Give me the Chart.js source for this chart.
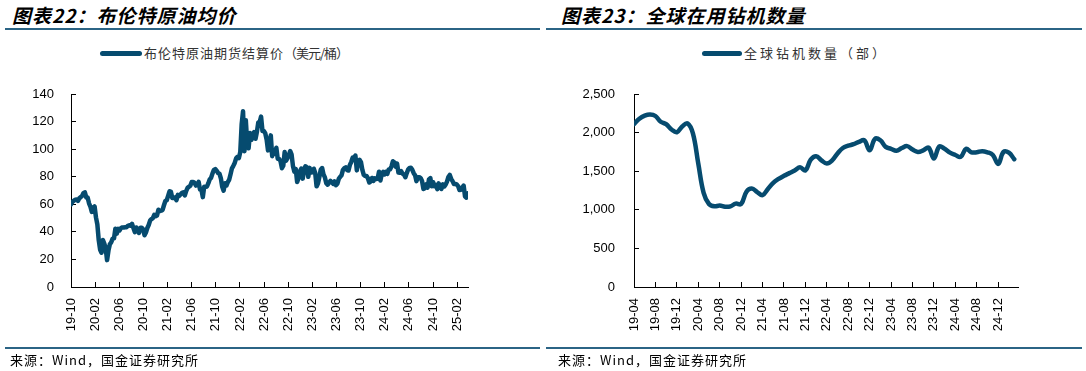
<!DOCTYPE html>
<html>
<head>
<meta charset="utf-8">
<script src="https://cdn.jsdelivr.net/npm/chart.js@4.4.1/dist/chart.umd.min.js"></script>
<style>
  body { margin: 0; background: #fff; width: 1086px; height: 371px; position: relative; overflow: hidden;
         font-family: "Noto Sans CJK SC", sans-serif; }
  .title { position: absolute; top: 3px; font-size: 19px; font-weight: bold; font-style: italic;
           letter-spacing: 1px; color: #000; line-height: 24px; }
  .rule { position: absolute; height: 2px; background: #2b6485; }
  .legend { position: absolute; top: 44px; font-size: 13px; line-height: 18px; color: #333;
            letter-spacing: 1px; display: flex; align-items: center; white-space: nowrap; }
  .legend i { display: inline-block; height: 5px; border-radius: 3px; background: #064b6f; margin-right: 2px; }
  .src { position: absolute; top: 351px; font-size: 13px; line-height: 18px; color: #000; letter-spacing: 1px; }
  canvas { position: absolute; top: 0; }
</style>
</head>
<body>
<div class="title" style="left:12px">图表22：布伦特原油均价</div>
<div class="title" style="left:561px">图表23：全球在用钻机数量</div>
<div class="rule" style="left:5px;width:535px;top:28px"></div>
<div class="rule" style="left:546px;width:536px;top:28px"></div>

<div class="legend" style="left:100px"><i style="width:42px"></i>布伦特原油期货结算价<span style="letter-spacing:-1px">（美元/桶）</span></div>
<div class="legend" style="left:702px;letter-spacing:3px"><i style="width:40px"></i>全球钻机数量（部）</div>

<canvas id="oil" width="543" height="371" style="left:0"></canvas>
<canvas id="rig" width="543" height="371" style="left:543px"></canvas>

<div class="rule" style="left:5px;width:535px;top:347px;height:1.5px"></div>
<div class="rule" style="left:546px;width:536px;top:347px;height:1.5px"></div>
<div class="src" style="left:10px">来源：Wind，国金证券研究所</div>
<div class="src" style="left:558px">来源：Wind，国金证券研究所</div>

<script>
// Brent settlement, weekly (Fridays), from 2019-10-25
const brent2019 = [60.0, 61.7, 62.5, 63.3, 63.4, 62.4, 64.4, 65.2, 66.1, 68.2];
const brent2020 = [68.6, 65.0, 64.9, 60.7, 58.2, 54.5, 57.3, 58.5, 50.5,
  45.3, 33.9, 27.0, 24.9, 34.1, 31.5, 28.1, 19.5, 26.4, 31.0, 32.5, 35.1, 35.3,
  42.3, 38.7, 42.2, 41.0, 42.8, 43.2, 43.1, 43.3, 43.3, 44.4, 44.8, 44.4, 45.8,
  42.7, 39.8, 43.2, 41.9, 39.3, 42.9, 42.9, 41.8, 37.5, 39.5, 42.8, 45.0, 48.2,
  49.3, 50.0, 52.3, 51.3];
const brent2021 = [51.8, 56.0, 55.1, 55.4, 55.9, 59.3, 62.4, 62.9, 66.1,
  69.4, 69.2, 64.5, 64.6, 64.9, 63.0, 66.8, 66.1, 67.3, 68.3, 68.7, 66.4, 69.6,
  71.9, 72.7, 73.5, 76.2, 76.2, 75.6, 73.6, 74.1, 76.3, 70.7, 70.6, 65.2, 72.7,
  72.6, 72.9, 75.3, 78.1, 79.3, 82.4, 84.9, 85.5, 84.4, 82.7, 82.2, 78.9, 72.7,
  69.9, 75.2, 73.5, 76.1, 77.8];
const brent2022 = [81.8, 86.1, 87.9, 90.0, 93.3, 94.4, 93.5, 97.9,
  118.0, 127.5, 98.5, 121.0, 104.4, 100.6, 111.7, 106.7, 109.3,
  112.4, 107.5, 112.6, 119.4, 119.7, 123.6, 113.1, 113.1,
  111.6, 107.0, 99.1, 103.2, 110.0, 94.9, 98.2, 96.7, 101.0,
  93.0, 92.8, 91.4, 86.2, 88.0, 97.9, 91.6, 93.5, 95.8, 98.6, 96.0, 87.6, 83.6,
  85.6, 76.1, 79.0, 84.0, 85.9];
const brent2023 = [78.6, 85.3, 87.6, 86.7, 79.9, 86.4, 83.0, 83.2,
  85.8, 82.8, 73.0, 75.0, 79.8, 85.1, 86.3, 81.7, 79.5, 75.3, 74.2, 75.6, 77.0,
  76.1, 74.8, 76.6, 73.9, 74.9, 78.5, 79.9, 81.1, 85.0, 86.2, 86.8, 84.8, 84.5,
  88.6, 90.7, 93.9, 93.3, 95.3, 84.6, 90.9, 92.2, 90.5, 84.9, 81.4, 80.6, 80.6,
  78.9, 75.8, 76.6, 79.1, 77.0];
const brent2024 = [78.8, 78.3, 78.6, 83.6, 77.3, 82.2, 83.5, 81.6,
  83.6, 82.1, 85.3, 85.4, 87.5, 91.2, 90.5, 87.3, 89.5, 83.0, 82.8, 84.0, 82.1, 81.6,
  79.6, 82.6, 85.2, 86.4, 86.5, 85.0, 82.6, 81.1, 76.8, 79.7, 79.7, 79.0, 76.9,
  71.1, 71.6, 74.5, 72.0, 78.1, 79.0, 73.1, 76.1, 73.1, 73.9, 71.0, 75.2, 72.9,
  71.1, 74.5, 72.9, 74.2];
const brent2025 = [76.5, 79.8, 81.3, 78.5, 76.8, 74.7, 74.7, 74.4, 73.2,
  70.4, 70.6, 72.2, 73.6, 65.6, 64.8, 68.0];
const brentWeekly = [].concat(brent2019, brent2020, brent2021, brent2022, brent2023, brent2024, brent2025);

// global rig count, monthly from 2019-04
const rigCount = [2110, 2180, 2220, 2235, 2215, 2140, 2110, 2040, 2005,
  2080, 2120, 1990, 1600, 1220, 1075, 1045, 1055, 1040, 1045, 1080, 1075,
  1235, 1275, 1230, 1190, 1270, 1350, 1400, 1440, 1475, 1510, 1550, 1510,
  1650, 1695, 1640, 1600, 1640, 1730, 1800, 1830, 1850, 1880, 1900, 1770,
  1920, 1900, 1815, 1790, 1765, 1800, 1825, 1780, 1750, 1770, 1805, 1665,
  1820, 1790, 1740, 1710, 1685, 1790, 1745, 1745, 1760, 1745, 1710, 1595,
  1750, 1740, 1655];

const oilTicks = [0, 20, 40, 60, 80, 100, 120, 140];
const rigTicks = [0, 500, 1000, 1500, 2000, 2500];

const lineColor = '#064b6f';
const tickFont = { family: '"Liberation Sans", Arial, sans-serif', size: 13 };

function monthLabel(year, month, add) {
  const t = year * 12 + (month - 1) + Math.round(add);
  const yy = Math.floor(t / 12) % 100;
  const mm = t % 12 + 1;
  return String(yy).padStart(2, '0') + '-' + String(mm).padStart(2, '0');
}

function xAxis(max, startY, startM, height) {
  return {
    type: 'linear', min: 0, max: max,
    grid: { drawOnChartArea: false, tickLength: -5, color: '#000', lineWidth: 1 },
    border: { color: '#000', width: 1 },
    ticks: {
      stepSize: 4, includeBounds: false, autoSkip: false,
      maxRotation: 90, minRotation: 90, padding: 16,
      color: '#000', font: tickFont,
      callback: v => monthLabel(startY, startM, v)
    },
    afterFit: s => { s.height = height; }
  };
}

function yAxis(vals, width, pad, fmt) {
  return {
    min: vals[0], max: vals[vals.length - 1],
    afterBuildTicks: s => { s.ticks = vals.map(v => ({ value: v })); },
    grid: { drawOnChartArea: false, tickLength: -5, color: '#000', lineWidth: 1 },
    border: { color: '#000', width: 1 },
    ticks: { padding: pad, color: '#000', font: tickFont, callback: fmt },
    afterFit: s => { s.width = width; }
  };
}

const common = {
  responsive: false, animation: false, devicePixelRatio: 1,
  plugins: { legend: { display: false }, tooltip: { enabled: false } },
  elements: { point: { radius: 0 } }
};

// weekly step in months
const weekStep = 7 / 30.44;

new Chart(document.getElementById('oil'), {
  type: 'line',
  data: {
    datasets: [{
      label: '布伦特原油期货结算价（美元/桶）',
      data: brentWeekly.map((v, i) => ({ x: i * weekStep, y: v })),
      borderColor: lineColor, borderWidth: 4.5, tension: 0,
      borderCapStyle: 'round', borderJoinStyle: 'round'
    }]
  },
  options: Object.assign({}, common, {
    layout: { padding: { left: 0, top: 94, right: 75, bottom: 0 } },
    scales: {
      x: xAxis(65.8, 2019, 10, 84),
      y: yAxis(oilTicks, 71, 22, v => v)
    }
  })
});

new Chart(document.getElementById('rig'), {
  type: 'line',
  data: {
    datasets: [{
      label: '全球钻机数量（部）',
      data: rigCount.map((v, i) => ({ x: i, y: v })),
      borderColor: lineColor, borderWidth: 4.5, tension: 0.4,
      borderCapStyle: 'round', borderJoinStyle: 'round'
    }]
  },
  options: Object.assign({}, common, {
    layout: { padding: { left: 0, top: 94, right: 68, bottom: 0 } },
    scales: {
      x: xAxis(71.7, 2019, 4, 84),
      y: yAxis(rigTicks, 91, 24, v => v.toLocaleString('en-US'))
    }
  })
});
</script>
</body>
</html>
